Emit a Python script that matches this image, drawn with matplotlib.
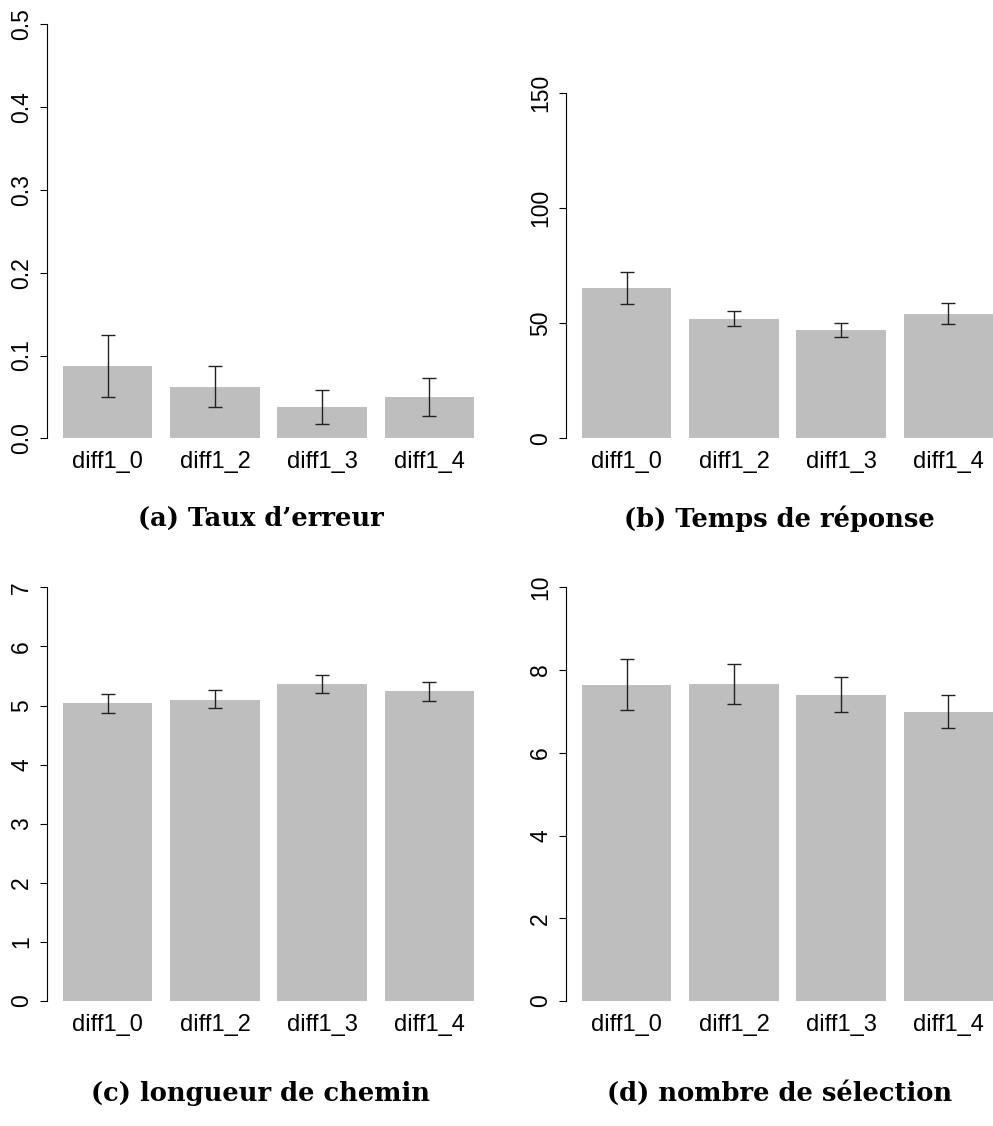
import numpy as np
import matplotlib.pyplot as plt

labels = ['diff1_0', 'diff1_2', 'diff1_3', 'diff1_4']

err_mean = [0.087, 0.062, 0.038, 0.050]
err_lo = [0.050, 0.038, 0.017, 0.027]
err_hi = [0.125, 0.087, 0.058, 0.073]

rt_mean = [65.3, 51.9, 47.1, 54.0]
rt_lo = [58.5, 49.0, 43.9, 49.7]
rt_hi = [72.2, 55.2, 50.3, 58.7]

path_mean = [5.04, 5.10, 5.36, 5.24]
path_lo = [4.88, 4.96, 5.21, 5.07]
path_hi = [5.19, 5.27, 5.51, 5.40]

sel_mean = [7.63, 7.66, 7.39, 6.98]
sel_lo = [7.03, 7.17, 6.98, 6.59]
sel_hi = [8.27, 8.15, 7.82, 7.40]

captions = ["(a) Taux d\u2019erreur", "(b) Temps de r\u00e9ponse",
            "(c) longueur de chemin", "(d) nombre de s\u00e9lection"]

plt.rcParams['font.family'] = ['Liberation Sans', 'DejaVu Sans']

W, H = 993, 1126
fig = plt.figure(figsize=(W / 100, H / 100), dpi=100)

# R barplot layout: width 1, space 0.2
x = 0.7 + 1.2 * np.arange(4)

panels = [
    (err_mean, err_lo, err_hi, 0.5, np.arange(0, 0.51, 0.1), '{:.1f}', 47, 24.3, 438.3, 80),
    (rt_mean, rt_lo, rt_hi, 180, np.arange(0, 151, 50), '{:.0f}', 566, 24.3, 438.3, 80),
    (path_mean, path_lo, path_hi, 7, np.arange(0, 8, 1), '{:.0f}', 47, 587.3, 1001, 92),
    (sel_mean, sel_lo, sel_hi, 10, np.arange(0, 11, 2), '{:.0f}', 566, 587.3, 1001, 92),
]

for k, (m, lo, hi, ymax, ticks, fmt, left, top, bot, cap_off) in enumerate(panels):
    ax = fig.add_axes([left / W, 1 - bot / H, 427 / W, (bot - top) / H])
    m = np.array(m)
    yerr = [m - np.array(lo), np.array(hi) - m]
    ax.bar(x, m, width=1.0, color='#bebebe', edgecolor='none')
    ax.errorbar(x, m, yerr=yerr, fmt='none', ecolor='#222222',
                elinewidth=1.0, capsize=5, capthick=1.0)
    ax.set_xlim(0.02, 4.8)
    ax.set_ylim(0, ymax)
    ax.set_yticks(ticks)
    ax.set_yticklabels([fmt.format(t) for t in ticks], rotation=90, va='center')
    ax.set_xticks(x)
    ax.set_xticklabels(labels, fontsize=17)
    ax.tick_params(axis='x', length=0, pad=9)
    ax.tick_params(axis='y', length=5, width=0.8, pad=5, labelsize=16.5)
    for s in ['top', 'right', 'bottom']:
        ax.spines[s].set_visible(False)
    ax.spines['left'].set_bounds(ticks[0], ticks[-1])
    ax.spines['left'].set_linewidth(0.8)
    cx = (left + 427 / 2) / W
    cy = 1 - (bot + cap_off) / H
    fig.text(cx, cy, captions[k], ha='center', va='center',
             family='DejaVu Serif', weight='bold', fontsize=18.5)

fig.savefig('out.png', dpi=100)
